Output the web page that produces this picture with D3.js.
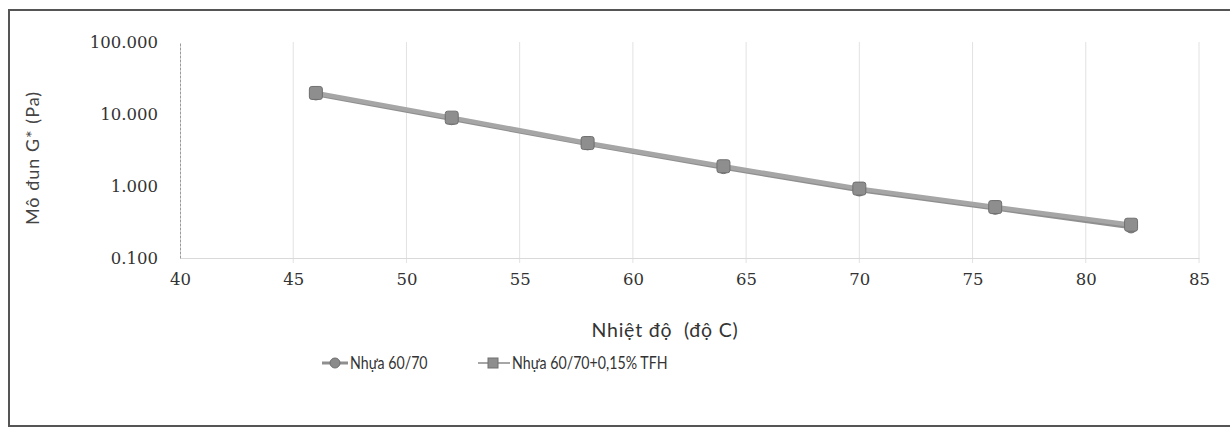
<!DOCTYPE html>
<html>
<head>
<meta charset="utf-8">
<script src="https://cdn.jsdelivr.net/npm/d3@7"></script>
<style>
  html, body { margin: 0; padding: 0; background: #fff; }
  svg { display: block; }
</style>
</head>
<body>
<svg id="chart" width="1230" height="430"></svg>
<script>
// Temperatures (°C) and complex modulus G* for the two binders
const temperatures = [46, 52, 58, 64, 70, 76, 82];
const base6070 = [19.0, 8.6, 3.85, 1.80, 0.88, 0.49, 0.27];
const base6070TFH = [19.6, 8.9, 3.95, 1.88, 0.92, 0.51, 0.29];
const xTicks = [40, 45, 50, 55, 60, 65, 70, 75, 80, 85];
const yTicks = [0.1, 1, 10, 100];
const seriesNames = ["Nhựa 60/70", "Nhựa 60/70+0,15% TFH"];

const svg = d3.select("#chart");
const plot = { left: 180, right: 1199, top: 42, bottom: 258 };

// outer frame
svg.append("path")
  .attr("d", `M1232,10 L9,10 L9,426 L1232,426`)
  .attr("fill", "none").attr("stroke", "#555").attr("stroke-width", 2);

const x = d3.scaleLinear().domain([40, 85]).range([plot.left, plot.right]);
const y = d3.scaleLog().domain([0.1, 100]).range([plot.bottom, plot.top]);

const fmt = d3.format(".3f");
const tickFont = "'DejaVu Serif', 'Liberation Serif', serif";
const titleFont = "Lato, 'Open Sans', sans-serif";

// vertical gridlines
svg.append("g").selectAll("line").data(xTicks.slice(1)).join("line")
  .attr("x1", d => x(d)).attr("x2", d => x(d))
  .attr("y1", plot.top).attr("y2", plot.bottom + 5)
  .attr("stroke", "#e2e2e2").attr("stroke-width", 1);

// x axis
const xAxis = svg.append("g")
  .attr("transform", `translate(0,${plot.bottom})`)
  .call(d3.axisBottom(x).tickValues(xTicks).tickSize(0).tickPadding(15).tickFormat(d3.format("d")));
xAxis.select(".domain").attr("stroke", "#d9d9d9");
xAxis.selectAll("text")
  .attr("font-family", tickFont).attr("font-size", 16.5).attr("fill", "#333");

// y axis
const yAxis = svg.append("g")
  .attr("transform", `translate(${plot.left},0)`)
  .call(d3.axisLeft(y).tickValues(yTicks).tickSize(0).tickPadding(22).tickFormat(fmt));
yAxis.select(".domain").attr("stroke", "#9a9a9a").attr("stroke-dasharray", "3,1");
yAxis.selectAll("text")
  .attr("font-family", tickFont).attr("font-size", 16.5).attr("fill", "#333");

// axis titles
svg.append("text")
  .attr("x", 665).attr("y", 337)
  .attr("text-anchor", "middle")
  .attr("font-family", titleFont)
  .attr("font-size", 19.5).attr("letter-spacing", 0.8).attr("fill", "#333")
  .style("white-space", "pre")
  .text("Nhiệt độ  (độ C)");

svg.append("text")
  .attr("transform", `translate(39,${(plot.top + plot.bottom) / 2 + 8}) rotate(-90)`)
  .attr("text-anchor", "middle")
  .attr("font-family", titleFont)
  .attr("font-size", 18).attr("letter-spacing", 1).attr("fill", "#444")
  .text("Mô đun G* (Pa)");

// lines
const line = d3.line().x(d => x(d[0])).y(d => y(d[1]));
const seriesData = [base6070, base6070TFH].map(vals => temperatures.map((t, i) => [t, vals[i]]));

seriesData.forEach((data, k) => {
  svg.append("path").datum(data)
    .attr("d", line)
    .attr("fill", "none")
    .attr("stroke", k === 0 ? "#8f8f8f" : "#a6a6a6")
    .attr("stroke-width", 4.5)
    .attr("stroke-linejoin", "round");
});

// markers: circles for the base binder, squares for the modified one
svg.append("g").selectAll("circle").data(seriesData[0]).join("circle")
  .attr("cx", d => x(d[0])).attr("cy", d => y(d[1])).attr("r", 6)
  .attr("fill", "#8a8a8a").attr("stroke", "#6f6f6f").attr("stroke-width", 1);

svg.append("g").selectAll("rect").data(seriesData[1]).join("rect")
  .attr("x", d => x(d[0]) - 6.5).attr("y", d => y(d[1]) - 6.5)
  .attr("width", 13).attr("height", 13).attr("rx", 2.5)
  .attr("fill", "#8e8e8e").attr("stroke", "#707070").attr("stroke-width", 1);

// legend (condensed labels)
const legend = svg.append("g").attr("transform", "translate(0,363)");
const legendFont = "Lato, 'Open Sans', sans-serif";

const l1 = legend.append("g").attr("transform", "translate(322,0)");
l1.append("line").attr("x1", 0).attr("x2", 26).attr("y1", 0).attr("y2", 0)
  .attr("stroke", "#8f8f8f").attr("stroke-width", 3);
l1.append("circle").attr("cx", 13).attr("cy", 0).attr("r", 5)
  .attr("fill", "#8a8a8a").attr("stroke", "#6f6f6f");
l1.append("text").attr("transform", "translate(28,5.5) scale(0.86,1)")
  .attr("font-family", legendFont).attr("font-size", 16.5).attr("fill", "#333")
  .text(seriesNames[0]);

const l2 = legend.append("g").attr("transform", "translate(478,0)");
l2.append("line").attr("x1", 0).attr("x2", 32).attr("y1", 0).attr("y2", 0)
  .attr("stroke", "#a6a6a6").attr("stroke-width", 2);
l2.append("rect").attr("x", 10).attr("y", -5).attr("width", 10).attr("height", 10)
  .attr("fill", "#8e8e8e").attr("stroke", "#707070");
l2.append("text").attr("transform", "translate(34,5.5) scale(0.86,1)")
  .attr("font-family", legendFont).attr("font-size", 16.5).attr("fill", "#333")
  .text(seriesNames[1]);
</script>
</body>
</html>
